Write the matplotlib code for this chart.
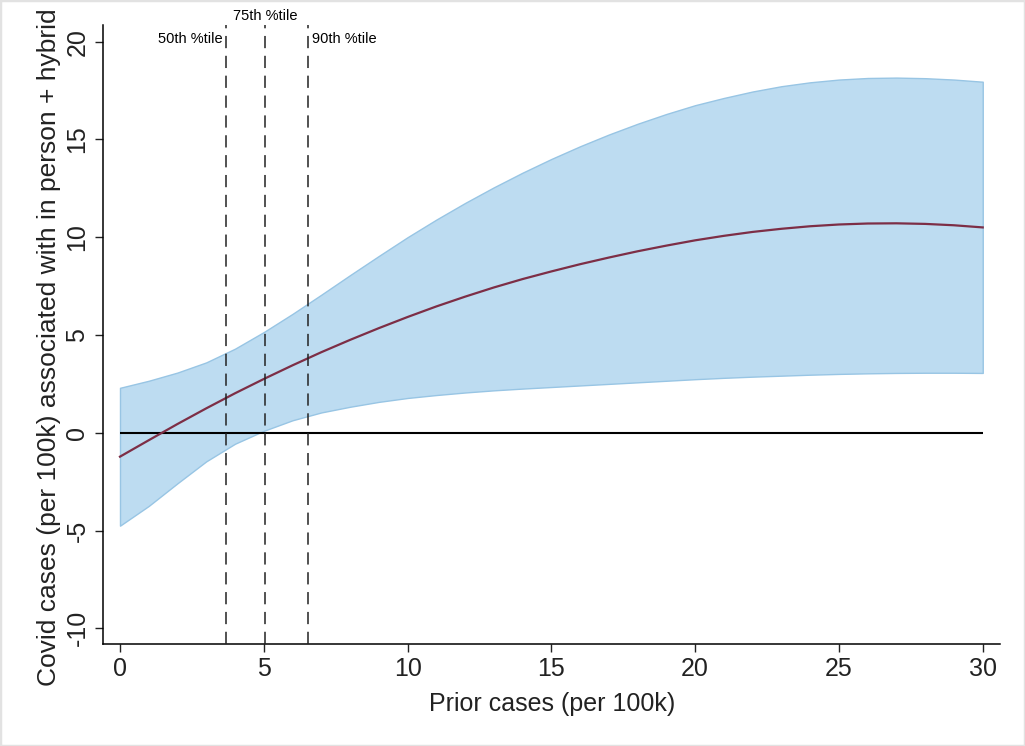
import matplotlib
matplotlib.use("Agg")
import matplotlib.pyplot as plt
from matplotlib.patches import Rectangle
import numpy as np

plt.rcParams['font.family'] = ['Liberation Sans', 'DejaVu Sans']
plt.rcParams['axes.unicode_minus'] = False

# predicted effect of prior cases, with 95% CI
prior_cases = np.arange(0, 31)
effect = [-1.22, -0.38, 0.45, 1.25, 2.02, 2.75, 3.45, 4.12, 4.75, 5.35,
          5.92, 6.46, 6.96, 7.43, 7.86, 8.25, 8.62, 8.96, 9.28, 9.57,
          9.84, 10.07, 10.27, 10.43, 10.56, 10.65, 10.70, 10.71, 10.68, 10.61,
          10.50]
ci_upper = [2.30, 2.66, 3.08, 3.60, 4.30, 5.15, 6.08, 7.06, 8.06, 9.04,
            10.00, 10.90, 11.75, 12.55, 13.30, 14.00, 14.65, 15.25, 15.80, 16.30,
            16.75, 17.12, 17.45, 17.72, 17.92, 18.06, 18.14, 18.16, 18.13, 18.06,
            17.95]
ci_lower = [-4.75, -3.74, -2.58, -1.46, -0.56, 0.10, 0.64, 1.04, 1.33, 1.58,
            1.78, 1.93, 2.06, 2.17, 2.26, 2.34, 2.42, 2.50, 2.58, 2.66,
            2.74, 2.81, 2.87, 2.92, 2.97, 3.01, 3.04, 3.06, 3.07, 3.07,
            3.06]

pctile_names = ["50th %tile", "75th %tile", "90th %tile"]
pctile_values = [3.7, 5.05, 6.55]

fig = plt.figure(figsize=(10.25, 7.46), dpi=100)
ax = fig.add_axes([0.1008, 0.1367, 0.8748, 0.8298])

ax.fill_between(prior_cases, ci_lower, ci_upper, facecolor='#bddcf1',
                edgecolor='#98c5e4', linewidth=1.0, zorder=1)
ax.plot(prior_cases, effect, color='#7d2e46', linewidth=1.6, zorder=3)
ax.hlines(0, prior_cases[0], prior_cases[-1], color='black', linewidth=1.5, zorder=2)

for val in pctile_values:
    ax.axvline(val, color='#222222', linewidth=1.1, linestyle=(0, (8, 5)), zorder=4)

# percentile labels sit around the top of the dashed lines
ax.text(pctile_values[0] - 0.12, 20.15, pctile_names[0], ha='right', va='center', fontsize=10.5)
ax.text(pctile_values[1], 21.3, pctile_names[1], ha='center', va='center', fontsize=10.5, clip_on=False)
ax.text(pctile_values[2] + 0.12, 20.15, pctile_names[2], ha='left', va='center', fontsize=10.5)

ax.set_xlim(-0.58, 30.6)
ax.set_ylim(-10.8, 20.85)
ax.set_xticks(range(0, 31, 5))
ax.set_yticks(range(-10, 21, 5))
ax.tick_params(axis='both', length=6, width=1.0, labelsize=18, colors='#222222')
ax.tick_params(axis='y', pad=4)
for lbl in ax.get_yticklabels():
    lbl.set_rotation(90)
    lbl.set_va('center')

for side in ['top', 'right']:
    ax.spines[side].set_visible(False)
for side in ['left', 'bottom']:
    ax.spines[side].set_linewidth(1.1)

ax.set_xlabel("Prior cases (per 100k)", fontsize=18, color='#222222')
ax.set_ylabel("Covid cases (per 100k) associated with in person + hybrid", fontsize=19,
              color='#222222')
ax.yaxis.set_label_coords(-0.047, 0.48)
ax.xaxis.set_label_coords(0.5, -0.078)

fig.patches.append(Rectangle((0, 0), 1, 1, transform=fig.transFigure, fill=False,
                             edgecolor='#e2e2e2', linewidth=2.5))

fig.savefig("out.png", dpi=100)
